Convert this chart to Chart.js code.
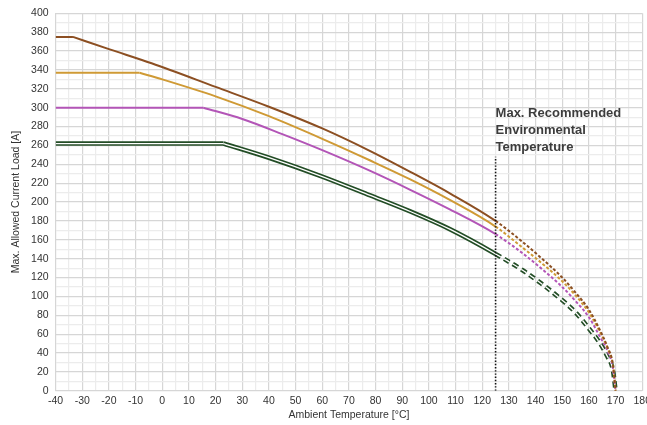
<!DOCTYPE html>
<html>
<head>
<meta charset="utf-8">
<script src="https://cdn.jsdelivr.net/npm/chart.js@4.4.1/dist/chart.umd.min.js"></script>
<style>
  html, body { margin: 0; padding: 0; background: #fff; overflow: hidden; width: 647px; height: 425px; }
</style>
</head>
<body>
<canvas id="derating" width="655" height="425"></canvas>
<script>
// axis labels
const xTickLabels = [-40, -30, -20, -10, 0, 10, 20, 30, 40, 50, 60, 70, 80, 90, 100, 110, 120, 130, 140, 150, 160, 170, 180];
const yTickLabels = [0, 20, 40, 60, 80, 100, 120, 140, 160, 180, 200, 220, 240, 260, 280, 300, 320, 340, 360, 380, 400];

// curves (ambient temp -> max current)
// first two points = flat part up to the knee
const brownTemp = [-40, -33.5, -20, -4, 20, 40, 60, 78, 93, 108, 125, 135, 142, 150, 155, 160, 164, 167, 169, 170];
const brownLoad = [375, 375, 362, 347, 322, 301, 278, 254, 232, 209, 180, 158, 141, 120, 104, 86, 65, 46, 28, 0];

const orangeTemp = [-40, -8.5, 0, 20, 40, 60, 78, 93, 108, 125, 135, 142, 150, 155, 160, 164, 167, 169, 170];
const orangeLoad = [337, 337, 330, 312, 291, 267, 244, 224, 202, 174, 152, 136, 116, 101, 83, 63, 45, 27, 0];

const purpleTemp = [-40, 15.4, 30, 45, 60, 78, 93, 108, 125, 135, 142, 150, 155, 160, 164, 167, 169, 170];
const purpleLoad = [300, 300, 288, 272, 255, 233, 213, 192, 166, 146, 130, 110, 95, 78, 58, 42, 24, 0];

const greenTemp = [-40, 23, 40, 60, 78, 93, 108, 125, 135, 142, 150, 155, 160, 164, 167, 169, 170];
const greenLoad = [262, 262, 247, 227, 207, 190, 171, 145, 128, 114, 96, 83, 66, 51, 36, 22, 0];

// recommended limit marker
const maxRecTemp = 125;
const markerTop = 248;
const noteLines = ["Max. Recommended", "Environmental", "Temperature"];
const noteTopLoad = 294;

function pts(xs, ys) {
  return xs.map((x, i) => ({ x: x, y: ys[i] }));
}

// solid up to 125, dashed above it
function dashAfterLimit(dash) {
  return { borderDash: (ctx) => (ctx.p0.parsed.x >= maxRecTemp ? dash : undefined) };
}

// flat part straight, falling part as a smooth curve from the knee on
function curve(label, xs, ys, color, width, dash, order) {
  const all = pts(xs, ys);
  const base = {
    borderColor: color,
    borderWidth: width,
    pointRadius: 0,
    fill: false,
    order: order,
  };
  return [
    Object.assign({ label: label + " flat", data: all.slice(0, 2), tension: 0 }, base),
    Object.assign(
      { label: label, data: all.slice(1), cubicInterpolationMode: "monotone", segment: dashAfterLimit(dash) },
      base
    ),
  ];
}

const FONT = "'Liberation Sans', Arial, sans-serif";

const notePlugin = {
  id: "note",
  afterDatasetsDraw(chart) {
    const c = chart.ctx;
    const x = chart.scales.x.getPixelForValue(maxRecTemp);
    let y = chart.scales.y.getPixelForValue(noteTopLoad);
    c.save();
    c.font = "bold 13px " + FONT;
    c.fillStyle = "#3c3c3c";
    c.textBaseline = "middle";
    c.textAlign = "left";
    noteLines.forEach((t) => {
      c.fillText(t, x, y);
      y += 17;
    });
    c.restore();
  },
};

const gridColor = (labels) => (ctx) =>
  ctx.tick && labels.includes(ctx.tick.value) ? "#d6d6d6" : "#ececec";

new Chart(document.getElementById("derating"), {
  type: "line",
  data: {
    datasets: [
      {
        label: "limit",
        data: [{ x: maxRecTemp, y: 0 }, { x: maxRecTemp, y: markerTop }],
        borderColor: "#111",
        borderWidth: 1.6,
        borderDash: [1.4, 1.8],
        pointRadius: 0,
        order: 0,
      },
      ...curve("brown", brownTemp, brownLoad, "#8c4f22", 2, [3, 2], 1),
      ...curve("orange", orangeTemp, orangeLoad, "#cf9a35", 2, [3, 2], 2),
      ...curve("purple", purpleTemp, purpleLoad, "#b355b7", 2, [3, 2], 3),
      ...curve("green inner", greenTemp, greenLoad, "#ffffff", 1.3, [6, 4], 4),
      ...curve("green", greenTemp, greenLoad, "#234d26", 4.6, [6, 4], 5),
    ],
  },
  options: {
    responsive: false,
    animation: false,
    layout: { padding: { left: 9.5, right: 0, top: 9, bottom: 4 } },
    plugins: { legend: { display: false }, tooltip: { enabled: false } },
    scales: {
      x: {
        type: "linear",
        min: -40,
        max: 180,
        border: { color: "#d6d6d6" },
        grid: { color: gridColor(xTickLabels), drawTicks: false, lineWidth: 1.2 },
        ticks: {
          stepSize: 5,
          autoSkip: false,
          maxRotation: 0,
          padding: 4,
          color: "#333",
          font: { family: FONT, size: 10.5 },
          callback: (v) => (xTickLabels.includes(v) ? String(v) : ""),
        },
        title: {
          display: true,
          text: "Ambient Temperature [°C]",
          color: "#333",
          font: { family: FONT, size: 10.5 },
          padding: { top: -3, bottom: 0 },
        },
      },
      y: {
        type: "linear",
        min: 0,
        max: 400,
        border: { color: "#d6d6d6" },
        grid: { color: gridColor(yTickLabels), drawTicks: false, lineWidth: 1.2 },
        ticks: {
          stepSize: 10,
          autoSkip: false,
          padding: 7,
          color: "#333",
          font: { family: FONT, size: 10.5 },
          callback: (v) => (yTickLabels.includes(v) ? String(v) : ""),
        },
        title: {
          display: true,
          text: "Max. Allowed Current Load [A]",
          color: "#333",
          font: { family: FONT, size: 10.5 },
          padding: { top: 0, bottom: 2 },
        },
      },
    },
  },
  plugins: [notePlugin],
});
</script>
</body>
</html>
